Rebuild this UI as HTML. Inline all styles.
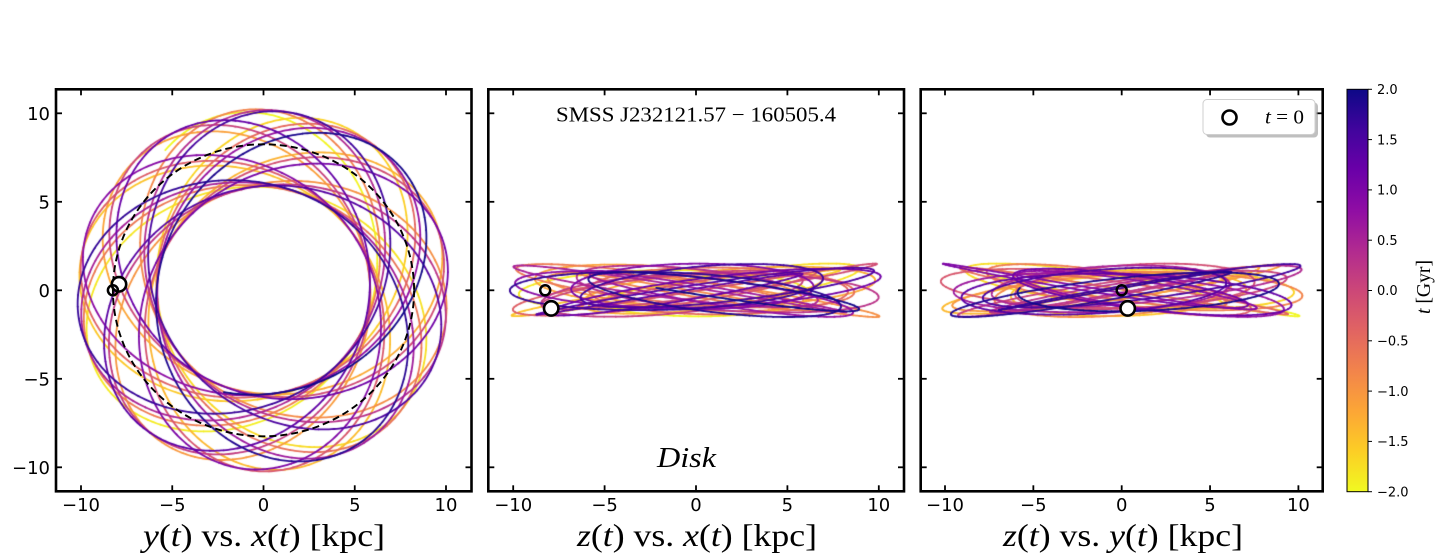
<!DOCTYPE html>
<html><head><meta charset="utf-8">
<style>
html,body{margin:0;padding:0;background:#fff;}
#wrap{position:relative;width:1440px;height:559px;overflow:hidden;background:#fff;}
canvas,svg{position:absolute;left:0;top:0;}
.tk{font-family:"DejaVu Sans","Liberation Sans",sans-serif;font-size:18px;fill:#000;}
.cb{font-family:"DejaVu Sans","Liberation Sans",sans-serif;font-size:13px;fill:#000;}
.sr{font-family:"Liberation Serif","DejaVu Serif",serif;fill:#000;}
</style></head><body>
<div id="wrap">
<canvas id="c" width="1440" height="559"></canvas>
<svg id="s" width="1440" height="559" viewBox="0 0 1440 559" xmlns="http://www.w3.org/2000/svg">
<defs>
<linearGradient id="pl" x1="0" y1="0" x2="0" y2="1">
<stop offset="0" stop-color="#0d0887"/>
<stop offset="0.1" stop-color="#41049d"/>
<stop offset="0.2" stop-color="#6a00a8"/>
<stop offset="0.3" stop-color="#8f0da4"/>
<stop offset="0.4" stop-color="#b12a90"/>
<stop offset="0.5" stop-color="#cc4778"/>
<stop offset="0.6" stop-color="#e16462"/>
<stop offset="0.7" stop-color="#f2844b"/>
<stop offset="0.8" stop-color="#fca636"/>
<stop offset="0.9" stop-color="#fcce25"/>
<stop offset="1" stop-color="#f0f921"/>
</linearGradient>
</defs>

<ellipse cx="263.5" cy="290.3" rx="150.6" ry="146" fill="none" stroke="#000" stroke-width="1.9" stroke-dasharray="7,4"/>

<circle cx="119" cy="284.3" r="7.2" fill="#fff" stroke="#000" stroke-width="2.6"/>
<circle cx="112.9" cy="290.3" r="5" fill="none" stroke="#000" stroke-width="2.5"/>
<circle cx="551.2" cy="308.4" r="7.2" fill="#fff" stroke="#000" stroke-width="2.6"/>
<circle cx="545.2" cy="290.3" r="5" fill="none" stroke="#000" stroke-width="2.5"/>
<circle cx="1127.7" cy="308.4" r="7.2" fill="#fff" stroke="#000" stroke-width="2.6"/>
<circle cx="1121.7" cy="290.3" r="5" fill="none" stroke="#000" stroke-width="2.5"/>

<g id="ticks" stroke="#000" stroke-width="1.8"></g>

<rect x="56" y="89.3" width="415.5" height="402" fill="none" stroke="#000" stroke-width="2.6"/>
<rect x="488.3" y="89.3" width="415.7" height="402" fill="none" stroke="#000" stroke-width="2.6"/>
<rect x="920.7" y="89.3" width="402" height="402" fill="none" stroke="#000" stroke-width="2.6"/>

<text class="tk" x="50" y="119.8" text-anchor="end">10</text>
<text class="tk" x="50" y="208.3" text-anchor="end">5</text>
<text class="tk" x="50" y="296.8" text-anchor="end">0</text>
<text class="tk" x="50" y="385.3" text-anchor="end">−5</text>
<text class="tk" x="50" y="473.8" text-anchor="end">−10</text>

<text class="tk" x="81" y="511" text-anchor="middle">−10</text>
<text class="tk" x="172.3" y="511" text-anchor="middle">−5</text>
<text class="tk" x="263.5" y="511" text-anchor="middle">0</text>
<text class="tk" x="354.8" y="511" text-anchor="middle">5</text>
<text class="tk" x="446" y="511" text-anchor="middle">10</text>
<text class="tk" x="513.2" y="511" text-anchor="middle">−10</text>
<text class="tk" x="604.6" y="511" text-anchor="middle">−5</text>
<text class="tk" x="696" y="511" text-anchor="middle">0</text>
<text class="tk" x="787.4" y="511" text-anchor="middle">5</text>
<text class="tk" x="878.8" y="511" text-anchor="middle">10</text>
<text class="tk" x="945" y="511" text-anchor="middle">−10</text>
<text class="tk" x="1033.3" y="511" text-anchor="middle">−5</text>
<text class="tk" x="1121.7" y="511" text-anchor="middle">0</text>
<text class="tk" x="1210" y="511" text-anchor="middle">5</text>
<text class="tk" x="1298.4" y="511" text-anchor="middle">10</text>

<text class="sr" x="264" y="546" font-size="32" text-anchor="middle" textLength="242" lengthAdjust="spacingAndGlyphs"><tspan font-style="italic">y</tspan>(<tspan font-style="italic">t</tspan>) vs. <tspan font-style="italic">x</tspan>(<tspan font-style="italic">t</tspan>) [kpc]</text>
<text class="sr" x="697" y="546" font-size="32" text-anchor="middle" textLength="240" lengthAdjust="spacingAndGlyphs"><tspan font-style="italic">z</tspan>(<tspan font-style="italic">t</tspan>) vs. <tspan font-style="italic">x</tspan>(<tspan font-style="italic">t</tspan>) [kpc]</text>
<text class="sr" x="1123" y="546" font-size="32" text-anchor="middle" textLength="240" lengthAdjust="spacingAndGlyphs"><tspan font-style="italic">z</tspan>(<tspan font-style="italic">t</tspan>) vs. <tspan font-style="italic">y</tspan>(<tspan font-style="italic">t</tspan>) [kpc]</text>

<text class="sr" x="556" y="121.5" font-size="21" textLength="280" lengthAdjust="spacingAndGlyphs">SMSS J232121.57 − 160505.4</text>
<text class="sr" x="657" y="467" font-size="28" font-style="italic" textLength="59" lengthAdjust="spacingAndGlyphs">Disk</text>

<rect x="1206" y="102.5" width="112" height="35" rx="4" fill="#8a8a8a" opacity="0.55"/>
<rect x="1203" y="99.5" width="112" height="35" rx="4" fill="#fff" stroke="#cfcfcf" stroke-width="1"/>
<circle cx="1229.5" cy="117.5" r="7" fill="#fff" stroke="#000" stroke-width="2.6"/>
<text class="sr" x="1265" y="123.5" font-size="20" textLength="39" lengthAdjust="spacingAndGlyphs"><tspan font-style="italic">t</tspan> = 0</text>

<rect x="1347" y="89.3" width="21" height="402.4" fill="url(#pl)" stroke="#000" stroke-width="1"/>
<g stroke="#000" stroke-width="1">
<line x1="1368" y1="89.3" x2="1372" y2="89.3"/>
<line x1="1368" y1="139.6" x2="1372" y2="139.6"/>
<line x1="1368" y1="189.9" x2="1372" y2="189.9"/>
<line x1="1368" y1="240.2" x2="1372" y2="240.2"/>
<line x1="1368" y1="290.5" x2="1372" y2="290.5"/>
<line x1="1368" y1="340.8" x2="1372" y2="340.8"/>
<line x1="1368" y1="391.1" x2="1372" y2="391.1"/>
<line x1="1368" y1="441.4" x2="1372" y2="441.4"/>
<line x1="1368" y1="491.7" x2="1372" y2="491.7"/>
</g>
<text class="cb" x="1377" y="94">2.0</text>
<text class="cb" x="1377" y="144.3">1.5</text>
<text class="cb" x="1377" y="194.6">1.0</text>
<text class="cb" x="1377" y="244.9">0.5</text>
<text class="cb" x="1377" y="295.2">0.0</text>
<text class="cb" x="1377" y="345.5">−0.5</text>
<text class="cb" x="1377" y="395.8">−1.0</text>
<text class="cb" x="1377" y="446.1">−1.5</text>
<text class="cb" x="1377" y="496.4">−2.0</text>
<text class="sr" transform="translate(1430,287) rotate(-90)" font-size="20" text-anchor="middle" textLength="54" lengthAdjust="spacingAndGlyphs"><tspan font-style="italic">t</tspan> [Gyr]</text>
</svg>
</div>
<script>
(function(){
  var NS="http://www.w3.org/2000/svg";
  var g=document.getElementById("ticks");
  function ln(x1,y1,x2,y2){var l=document.createElementNS(NS,"line");l.setAttribute("x1",x1);l.setAttribute("y1",y1);l.setAttribute("x2",x2);l.setAttribute("y2",y2);g.appendChild(l);}
  var Y=function(v){return 290.3-17.7*v;};
  var panels=[
    {cx:263.5,s:18.25,l:56,r:471.5},
    {cx:696,s:18.28,l:488.3,r:904},
    {cx:1121.7,s:17.67,l:920.7,r:1322.7}
  ];
  var vals=[-10,-5,0,5,10];
  panels.forEach(function(p){
    vals.forEach(function(v){
      var x=p.cx+p.s*v;
      ln(x,491.3,x,485.3); ln(x,89.3,x,95.3);
      var y=Y(v);
      ln(p.l,y,p.l+6,y); ln(p.r,y,p.r-6,y);
    });
  });

  var SC=1.35;
  var K=1.0227e-3*SC, v0=220*K, q=0.9, q2=q*q, V2=v0*v0;
  function acc(x,y,z){var D=x*x+y*y+z*z/q2;var f=-V2/D;return [f*x,f*y,f*z/q2];}
  function integ(p,v,dt,n){
    var x=p[0],y=p[1],z=p[2],vx=v[0],vy=v[1],vz=v[2];
    var out=[[x,y,z]];var a=acc(x,y,z);
    for(var i=0;i<n;i++){
      vx+=0.5*dt*a[0];vy+=0.5*dt*a[1];vz+=0.5*dt*a[2];
      x+=dt*vx;y+=dt*vy;z+=dt*vz;
      a=acc(x,y,z);
      vx+=0.5*dt*a[0];vy+=0.5*dt*a[1];vz+=0.5*dt*a[2];
      out.push([x,y,z]);
    }
    return out;
  }
  var x0=-7.92,y0=0.34,z0=-1.02;
  var R=Math.sqrt(x0*x0+y0*y0);
  var rh=[x0/R,y0/R], ph=[y0/R,-x0/R];
  var vR=86*K, vP=207*K, vZ=10*K;
  var vel=[vR*rh[0]+vP*ph[0], vR*rh[1]+vP*ph[1], vZ];
  var dt=0.5,n=4000;
  var fw=integ([x0,y0,z0],vel,dt,n);
  var bw=integ([x0,y0,z0],vel,-dt,n);
  var pts=bw.slice(1).reverse().concat(fw);
  var stops=[[13,8,135],[65,4,157],[106,0,168],[143,13,164],[177,42,144],[204,71,120],[225,100,98],[242,132,75],[252,166,54],[252,206,37],[240,249,33]];
  function plasma(u){
    u=Math.max(0,Math.min(1,u));var f=u*10;var i=Math.min(9,Math.floor(f));var t=f-i;
    var a=stops[i],b=stops[i+1];
    return "rgb("+Math.round(a[0]+(b[0]-a[0])*t)+","+Math.round(a[1]+(b[1]-a[1])*t)+","+Math.round(a[2]+(b[2]-a[2])*t)+")";
  }
  var cv=document.getElementById("c");var ctx=cv.getContext("2d");
  ctx.lineWidth=1.8;ctx.lineJoin="round";ctx.lineCap="round";
  var maps=[
    {clip:[56,89.3,415.5,402],f:function(p){return [263.5+18.25*p[0],290.3-17.7*p[1]];}},
    {clip:[488.3,89.3,415.7,402],f:function(p){return [696+18.28*p[0],290.3-17.7*p[2]];}},
    {clip:[920.7,89.3,402,402],f:function(p){return [1121.7+17.67*p[1],290.3-17.7*p[2]];}}
  ];
  var N=pts.length, CH=6;
  maps.forEach(function(m){
    ctx.save();
    ctx.beginPath();ctx.rect(m.clip[0],m.clip[1],m.clip[2],m.clip[3]);ctx.clip();
    for(var i=0;i<N-1;i+=CH){
      var j=Math.min(N-1,i+CH);
      var tm=(-2000+(i+j)/2*dt)/1000;
      ctx.strokeStyle=plasma((2-tm)/4);
      ctx.beginPath();
      var s=m.f(pts[i]);ctx.moveTo(s[0],s[1]);
      for(var k=i+1;k<=j;k++){var p=m.f(pts[k]);ctx.lineTo(p[0],p[1]);}
      ctx.stroke();
    }
    ctx.restore();
  });
})();
</script>
</body></html>
